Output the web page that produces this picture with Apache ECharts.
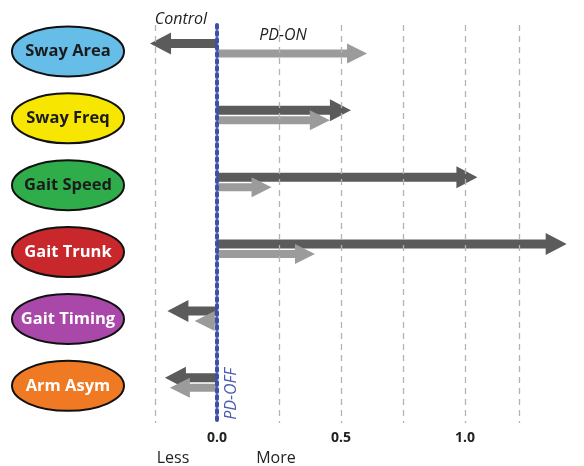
<!DOCTYPE html>
<html>
<head>
<meta charset="utf-8">
<script src="https://cdn.jsdelivr.net/npm/echarts@6/dist/echarts.min.js"></script>
<style>
html,body{margin:0;padding:0;background:#fff;}
#chart{width:584px;height:466px;}
</style>
</head>
<body>
<div id="chart"></div>
<script>
const categories = ['Sway Area', 'Sway Freq', 'Gait Speed', 'Gait Trunk', 'Gait Timing', 'Arm Asym'];
const pdOffValues = [-0.27, 0.54, 1.05, 1.41, -0.20, -0.21];
const pdOnValues = [0.605, 0.455, 0.22, 0.395, -0.09, -0.19];
const ellipseFills = ['#66bde8', '#f6e600', '#2fad4b', '#c8282b', '#a948a9', '#f07a24'];
const ellipseText = ['#1b1b1b', '#1b1b1b', '#1b1b1b', '#ffffff', '#ffffff', '#ffffff'];
const tickLabels = ['0.0', '0.5', '1.0'];
const gridValues = [-0.25, 0.25, 0.5, 0.75, 1.0, 1.22];

const FONT = '"Open Sans", "DejaVu Sans", sans-serif';
const chart = echarts.init(document.getElementById('chart'), null, {renderer: 'canvas'});

function arrowRenderer(yOff, bodyHalf, headHalf, headLen, color) {
  return function (params, api) {
    const v = api.value(0), row = api.value(1);
    const p0 = api.coord([0, row]);
    const p1 = api.coord([v, row]);
    const y = p0[1] + yOff;
    const x0 = p0[0], xe = p1[0];
    const s = xe >= x0 ? 1 : -1;
    let xh = xe - s * headLen;
    if ((xh - x0) * s < 0) xh = x0;
    const pts = [
      [x0, y - bodyHalf], [xh, y - bodyHalf], [xh, y - headHalf], [xe, y],
      [xh, y + headHalf], [xh, y + bodyHalf], [x0, y + bodyHalf]
    ];
    return {type: 'polygon', shape: {points: pts}, style: {fill: color}};
  };
}

const option = {
  animation: false,
  grid: {left: 155, right: 57, top: 25, bottom: 43},
  xAxis: {
    type: 'value', min: -0.25, max: 1.25, interval: 0.25,
    axisLine: {show: false}, axisTick: {show: false}, splitLine: {show: false},
    axisLabel: {
      margin: 8, fontFamily: FONT, fontWeight: 'bold', fontSize: 14, color: '#222',
      formatter: function (v) {
        const t = v.toFixed(1);
        return tickLabels.indexOf(t) >= 0 && Math.abs(v - parseFloat(t)) < 1e-9 ? t : '';
      }
    }
  },
  yAxis: {type: 'value', inverse: true, min: -0.35, max: 5.6, show: false},
  series: [
    {
      type: 'custom', name: 'labels', silent: true,
      data: categories.map((c, i) => [0, i]),
      renderItem: function (params, api) {
        const i = params.dataIndex;
        const y = api.coord([0, api.value(1)])[1] + 3;
        const cx = 68, rx = 56, ry = 25;
        return {
          type: 'group',
          children: [
            {type: 'path', shape: {pathData: 'M0,1 A1,1 0 1,0 2,1 A1,1 0 1,0 0,1 Z', x: cx - rx, y: y - ry, width: 2 * rx, height: 2 * ry, layout: 'cover'},
             style: {fill: ellipseFills[i], stroke: '#111', lineWidth: 2}},
            {type: 'text', x: cx, y: y, style: {text: categories[i], fill: ellipseText[i], font: 'bold 16.5px ' + FONT, align: 'center', verticalAlign: 'middle'}}
          ]
        };
      }
    },
    {
      type: 'custom', name: 'PD-ON', silent: true,
      data: pdOnValues.map((v, i) => [v, i]),
      renderItem: arrowRenderer(5, 4, 10, 20, '#9b9b9b'),
      markLine: {
        silent: true, symbol: 'none', label: {show: false},
        lineStyle: {color: '#b3b3b3', type: [6, 5], width: 1.3},
        data: gridValues.map(v => ({xAxis: v}))
      },
      z: 2
    },
    {
      type: 'custom', name: 'PD-OFF', silent: true,
      data: pdOffValues.map((v, i) => [v, i]),
      renderItem: arrowRenderer(-5, 4.5, 11, 21, '#5b5b5b'),
      z: 1
    },
    {
      type: 'custom', name: 'zero', silent: true, data: [],
      renderItem: function () { return null; },
      markLine: {
        silent: true, symbol: 'none', label: {show: false},
        lineStyle: {color: '#3d4fa6', type: [3, 4], width: 4, cap: 'round'},
        data: [{xAxis: 0}]
      },
      z: 5
    }
  ],
  graphic: [
    {type: 'text', x: 181, y: 19, style: {text: 'Control', font: 'italic 16px ' + FONT, fill: '#222', align: 'center', verticalAlign: 'middle'}},
    {type: 'text', x: 283, y: 35, style: {text: 'PD-ON', font: 'italic 16px ' + FONT, fill: '#222', align: 'center', verticalAlign: 'middle'}},
    {type: 'text', x: 231, y: 394, rotation: Math.PI / 2, style: {text: 'PD-OFF', font: 'italic 16px ' + FONT, fill: '#4a5bb2', align: 'center', verticalAlign: 'middle'}},
    {type: 'text', x: 173, y: 458, style: {text: 'Less', font: '16px ' + FONT, fill: '#222', align: 'center', verticalAlign: 'middle'}},
    {type: 'text', x: 276, y: 458, style: {text: 'More', font: '16px ' + FONT, fill: '#222', align: 'center', verticalAlign: 'middle'}}
  ]
};
chart.setOption(option);
</script>
</body>
</html>
